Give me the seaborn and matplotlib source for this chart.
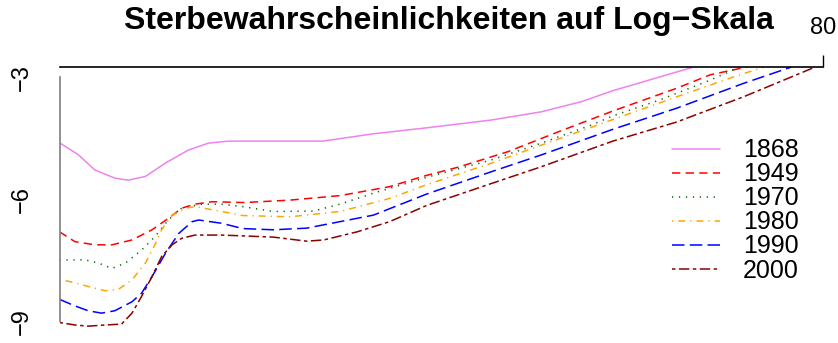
import numpy as np
import pandas as pd
import matplotlib
matplotlib.use("Agg")
import matplotlib.pyplot as plt
import seaborn as sns

# log mortality by age
age_1868 = [0, 2.0, 3.7, 5.8, 7.2, 9.0, 11.1, 13.5, 15.6, 17.7, 22.5, 27.6, 32.9, 38.6, 45.3, 50.5, 54.7, 58.0, 66.3]
q_1868 = [-4.61, -4.91, -5.28, -5.48, -5.53, -5.44, -5.11, -4.79, -4.62, -4.57, -4.57, -4.57, -4.39, -4.24, -4.05, -3.85, -3.60, -3.33, -2.76]

age_1949 = [0, 1.6, 3.7, 5.5, 7.6, 9.7, 11.4, 12.8, 14.2, 16.0, 19.4, 24.2, 29.4, 34.6, 38.2, 41.8, 47.0, 52.3, 58.0, 64.7, 68.2, 72.0]
q_1949 = [-6.80, -7.04, -7.12, -7.12, -7.00, -6.75, -6.47, -6.22, -6.12, -6.06, -6.08, -6.02, -5.91, -5.69, -5.43, -5.21, -4.83, -4.34, -3.83, -3.27, -2.94, -2.75]

age_1970 = [0, 2.7, 4.1, 5.5, 6.9, 8.6, 10.0, 11.4, 12.8, 14.9, 17.0, 19.2, 22.4, 26.6, 29.4, 32.9, 38.5, 45.3, 50.5, 55.8, 58.0, 62.9, 68.2, 71.2]
q_1970 = [-7.49, -7.49, -7.57, -7.70, -7.57, -7.25, -6.92, -6.51, -6.22, -6.12, -6.12, -6.18, -6.30, -6.29, -6.12, -5.85, -5.46, -5.03, -4.62, -4.17, -3.95, -3.56, -3.07, -2.76]

age_1980 = [0, 1.6, 3.4, 4.8, 6.2, 7.6, 9.0, 10.0, 10.7, 11.8, 13.2, 14.2, 17.0, 19.2, 24.2, 29.4, 34.6, 38.5, 45.3, 50.5, 58.0, 64.7, 70.3, 73.8]
q_1980 = [-7.97, -8.05, -8.17, -8.25, -8.21, -7.98, -7.57, -7.12, -6.75, -6.39, -6.22, -6.18, -6.30, -6.40, -6.43, -6.30, -5.98, -5.64, -5.11, -4.67, -4.04, -3.48, -3.02, -2.75]

age_1990 = [0, 1.6, 3.0, 4.4, 5.8, 7.6, 8.6, 9.7, 11.1, 12.5, 13.9, 14.6, 17.0, 19.2, 22.4, 25.9, 29.4, 32.9, 38.5, 45.3, 50.5, 58.0, 64.7, 71.7, 76.7]
q_1990 = [-8.46, -8.62, -8.74, -8.80, -8.74, -8.52, -8.31, -7.90, -7.33, -6.84, -6.55, -6.51, -6.59, -6.72, -6.75, -6.71, -6.55, -6.39, -5.87, -5.32, -4.91, -4.28, -3.76, -3.15, -2.75]

age_2000 = [0, 1.6, 3.0, 4.8, 6.5, 7.6, 8.6, 9.7, 10.7, 11.8, 12.8, 14.2, 17.0, 19.2, 22.4, 25.9, 27.7, 31.2, 34.6, 38.5, 45.3, 50.5, 58.0, 64.7, 71.7, 79.2]
q_2000 = [-9.03, -9.09, -9.12, -9.09, -9.07, -8.80, -8.39, -7.90, -7.41, -7.12, -6.96, -6.88, -6.88, -6.90, -6.93, -7.03, -7.00, -6.80, -6.55, -6.15, -5.61, -5.20, -4.57, -4.10, -3.48, -2.75]

years = ["1868", "1949", "1970", "1980", "1990", "2000"]
ages = [age_1868, age_1949, age_1970, age_1980, age_1990, age_2000]
qs = [q_1868, q_1949, q_1970, q_1980, q_1990, q_2000]

df = pd.concat([pd.DataFrame({"age": a, "logq": q, "year": y}) for a, q, y in zip(ages, qs, years)],
               ignore_index=True)

sns.set_style("white")
plt.rcParams['font.family'] = ['Liberation Sans', 'DejaVu Sans']
plt.rcParams['lines.scale_dashes'] = False
plt.rcParams['text.color'] = 'black'
plt.rcParams['xtick.color'] = 'black'
plt.rcParams['ytick.color'] = 'black'

palette = {"1868": "#EE82EE", "1949": "#FF0000", "1970": "#006400",
           "1980": "#FFA500", "1990": "#0000FF", "2000": "#8B0000"}
dashes = {"1868": "", "1949": (6.0, 3.8), "1970": (0.9, 4.1),
          "1980": (0.9, 3.6, 5.0, 3.6), "1990": (9.0, 3.8), "2000": (2.5, 2.5, 7.5, 2.5)}

fig = plt.figure(figsize=(8.38, 3.43), dpi=100)
ax = fig.add_axes([59.5 / 838, 1 - 333.5 / 343, 763.2 / 838, (333.5 - 67.3) / 343])

sns.lineplot(data=df, x="age", y="logq", hue="year", style="year", palette=palette,
             dashes=dashes, estimator=None, sort=False, lw=1.1, ax=ax)

ax.set_xlim(0, 80)
ax.set_ylim(-9.3, -2.755)
ax.set_xlabel("")
ax.set_ylabel("")

for s in ["bottom", "right"]:
    ax.spines[s].set_visible(False)
ax.spines["top"].set_color("black")
ax.spines["top"].set_linewidth(1.2)
ax.spines["left"].set_color("#7f7f7f")
ax.spines["left"].set_linewidth(1.2)
ax.spines["left"].set_bounds(-9, -3)

ax.xaxis.tick_top()
ax.set_xticks([80])
ax.set_xticklabels(["80"])
ax.tick_params(axis="x", length=8.6, width=1.0, pad=12, labelsize=17, color="black", labelcolor="black")

ax.set_yticks([-9, -6, -3])
ax.set_yticklabels(["\u22129", "\u22126", "\u22123"], rotation=90, va="center")
ax.tick_params(axis="y", length=8.0, width=1.0, pad=11, labelsize=17, color="black", labelcolor="black")

handles, labels = ax.get_legend_handles_labels()
leg = ax.legend(handles, labels, frameon=False, loc="center left",
                bbox_to_anchor=(672 / 838, 1 - 210.5 / 343), bbox_transform=fig.transFigure,
                fontsize=18, handlelength=1.92, handletextpad=0.92, labelspacing=0.0,
                borderpad=0, borderaxespad=0)
for t in leg.get_texts():
    t.set_color("black")

fig.text(449 / 838, 1 - 21 / 343, "Sterbewahrscheinlichkeiten auf Log\u2212Skala",
         ha="center", va="center", fontsize=23, fontweight="bold", color="black")

fig.savefig("out.png", dpi=100)
